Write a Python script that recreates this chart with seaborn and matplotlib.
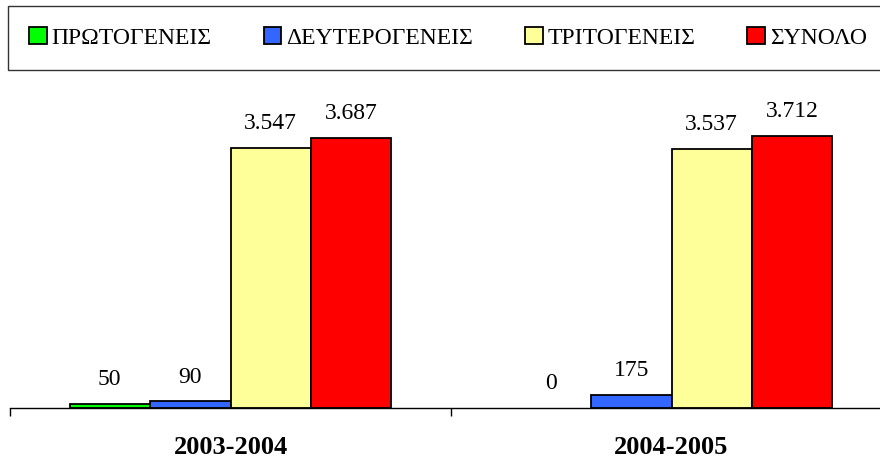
# recreate the greek bar chart (students per year) with seaborn

import numpy as np
import pandas as pd
import seaborn as sns
import matplotlib.pyplot as plt
from matplotlib.ticker import FixedLocator

# data
periods = ["2003-2004", "2004-2005"]
series = ["ΠΡΩΤΟΓΕΝΕΙΣ", "ΔΕΥΤΕΡΟΓΕΝΕΙΣ", "ΤΡΙΤΟΓΕΝΕΙΣ", "ΣΥΝΟΛΟ"]
values_2003 = [50, 90, 3547, 3687]
values_2004 = [0, 175, 3537, 3712]
colors = ["#00FF00", "#3366FF", "#FFFF99", "#FF0000"]

df = pd.DataFrame({
    "period": [periods[0]] * 4 + [periods[1]] * 4,
    "series": series * 2,
    "value": values_2003 + values_2004,
})

sns.set_style("white")
plt.rcParams["font.family"] = ["Liberation Serif", "DejaVu Serif"]
plt.rcParams["text.color"] = "black"
plt.rcParams["xtick.color"] = "black"

fig = plt.figure(figsize=(8.8, 4.59), dpi=100)
# axes: left at 10px, bottom axis line at y=408px, 441px per category
ax = fig.add_axes([10 / 880, 51 / 459, 882 / 880, 328 / 459])

sns.barplot(data=df, x="period", y="value", hue="series", hue_order=series,
            palette=colors, width=0.73, gap=0, edgecolor="black", linewidth=1.3,
            saturation=1, ax=ax)

ax.set_xlim(-0.5, 1.5)
ax.set_ylim(0, 328 * 3687 / 270)

# value labels with dot as thousands separator
for cont in ax.containers:
    ax.bar_label(cont, labels=[f"{v:,.0f}".replace(",", ".") for v in cont.datavalues],
                 padding=10, fontsize=17, color="black")
    # zero-height bars are not drawn in the original
    for bar, v in zip(cont.patches, cont.datavalues):
        if v == 0:
            bar.set_visible(False)

# axis styling: only bottom line with ticks between categories
sns.despine(ax=ax, left=True, top=True, right=True)
ax.spines["bottom"].set_color("black")
ax.spines["bottom"].set_linewidth(1)
ax.set_yticks([])
ax.set_xlabel("")
ax.set_ylabel("")
ax.xaxis.set_minor_locator(FixedLocator([-0.5, 0.5, 1.5]))
ax.tick_params(axis="x", which="minor", bottom=True, length=6, width=1, color="black", direction="out")
ax.tick_params(axis="x", which="major", bottom=False, length=0, pad=20)
for lab in ax.get_xticklabels():
    lab.set_fontweight("bold")
    lab.set_fontsize(19)
    lab.set_color("black")

# legend in a box across the top
handles, labels = ax.get_legend_handles_labels()
ax.legend_.remove()
leg = fig.legend(handles, labels, ncol=4, loc="lower left",
                 bbox_to_anchor=(8 / 880, 389 / 459, 880 / 880, 60 / 459),
                 mode="expand", fontsize=17, frameon=True, fancybox=False,
                 edgecolor="black", handlelength=0.75, handleheight=0.75,
                 handletextpad=0.2, borderaxespad=0, borderpad=0.9)
leg.get_frame().set_linewidth(1)

fig.savefig("out.png", dpi=100)
